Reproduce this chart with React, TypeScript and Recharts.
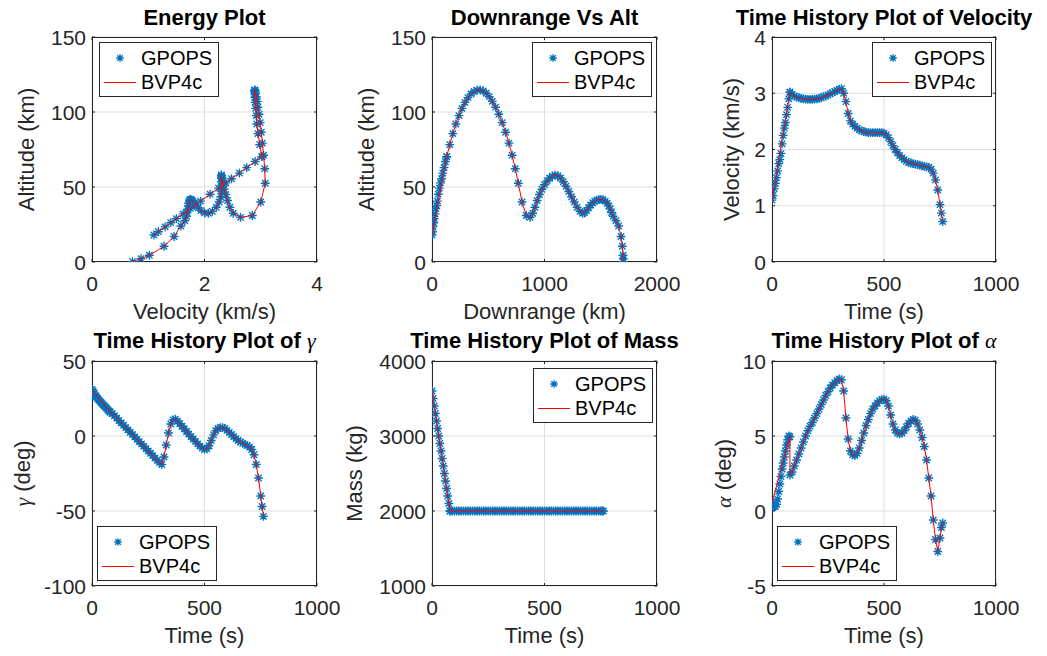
import React from 'react';
import { ScatterChart, Scatter, XAxis, YAxis, CartesianGrid, Legend } from 'recharts';

const FONT = "'Liberation Sans', Arial, Helvetica, sans-serif";
const SERIF = "'Liberation Serif', 'DejaVu Serif', serif";
const BLUE = '#0072BD';
const RED = '#FF0000';
const AXIS = '#262626';
const GRID = '#dfdfdf';

// ---------------- GPOPS solution (boost phase 0-80 s, then glide phase 80-762 s) ----------------
const gpopsTime = [
  0, 5, 10, 15, 20, 25, 30, 35, 40, 45, 50, 55, 60, 65, 70, 75, 80,
  80, 90, 100, 110, 120, 130, 140, 150, 160, 170, 180, 190, 200, 210, 220, 230, 240, 250, 260, 270, 280, 290, 300, 310,
  320, 330, 340, 350, 360, 370, 380, 390, 400, 410, 420, 430, 440, 450, 460, 470, 480, 490, 500, 510, 520, 530, 540,
  550, 560, 570, 580, 590, 600, 610, 620, 630, 640, 650, 660, 670, 680, 690, 700, 710, 720, 730, 740, 750, 756, 762,
];
const gpopsVelocity = [
  1.10, 1.18, 1.30, 1.40, 1.50, 1.62, 1.75, 1.82, 1.93, 2.10, 2.25, 2.38, 2.48, 2.62, 2.75, 2.90, 3.02,
  3.02, 2.98, 2.95, 2.93, 2.92, 2.91, 2.90, 2.895, 2.89, 2.89, 2.89, 2.895, 2.90, 2.91, 2.92, 2.94, 2.95, 2.97, 2.99, 3.01, 3.03, 3.05, 3.07, 3.08,
  3.00, 2.85, 2.64, 2.51, 2.45, 2.41, 2.38, 2.35, 2.33, 2.32, 2.31, 2.30, 2.30, 2.30, 2.30, 2.30, 2.30, 2.30, 2.29, 2.26, 2.21, 2.14, 2.07,
  2.00, 1.94, 1.89, 1.85, 1.82, 1.79, 1.77, 1.76, 1.75, 1.74, 1.73, 1.72, 1.71, 1.70, 1.69, 1.68, 1.65, 1.58, 1.46, 1.28, 1.02, 0.87, 0.72,
];
const gpopsAltitude = [
  18.0, 20.2, 23.4, 26.2, 28.9, 32.1, 35.7, 37.6, 40.6, 45.2, 49.3, 52.8, 55.5, 59.3, 62.9, 67.0, 70.2,
  70.2, 78.3, 85.6, 92.0, 97.6, 102.4, 106.4, 109.6, 112.1, 113.7, 114.6, 114.7, 114.0, 112.5, 110.2, 107.1, 103.2, 98.5, 92.9, 86.5, 79.3, 71.2, 62.2, 52.5,
  40.0, 31.0, 29.8, 32.5, 36.5, 41.0, 45.0, 48.5, 51.5, 54.0, 56.0, 57.3, 58.0, 57.5, 56.0, 53.5, 50.5, 47.0, 43.5, 40.0, 36.5, 33.8, 32.5,
  32.8, 34.3, 36.2, 38.0, 39.5, 40.5, 41.2, 41.6, 41.8, 41.5, 40.6, 39.2, 37.4, 35.3, 33.0, 30.5, 27.5, 24.0, 17.0, 10.5, 4.5, 2.2, 0.3,
];
const gpopsDownrange = [
  0, 4.5, 9.5, 15, 20.5, 27, 33.5, 40.5, 48, 56, 65, 75, 85, 95.5, 107, 119, 131,
  131, 158, 185, 212, 239, 266, 293, 320, 347, 374, 401, 428, 455, 482, 509, 536, 565, 594, 624, 654, 684, 712, 740, 767,
  800, 838, 872, 895, 915, 935, 955, 977, 1000, 1023, 1046, 1070, 1093, 1118, 1142, 1167, 1191, 1216, 1241, 1265, 1290, 1315, 1339,
  1356, 1374, 1392, 1410, 1428, 1446, 1464, 1484, 1502, 1520, 1540, 1558, 1572, 1585, 1597, 1610, 1635, 1659, 1680, 1692, 1698, 1700, 1701,
];
const gpopsGamma = [
  31.0, 30.0, 28.5, 27.0, 26.0, 25.0, 24.0, 23.2, 22.4, 21.6, 20.8, 20.0, 19.2, 18.4, 17.5, 16.7, 16.0,
  16.0, 15.0, 13.4, 11.9, 10.3, 8.7, 7.2, 5.6, 4.1, 2.5, 0.9, -0.6, -2.2, -3.7, -5.3, -6.9, -8.4, -10.0, -11.5, -13.1, -14.7, -16.2, -17.8, -19.0,
  -14.0, -6.0, 2.0, 8.0, 10.8, 11.2, 10.0, 8.3, 6.5, 4.7, 3.0, 1.3, -0.4, -2.0, -3.6, -5.2, -6.7, -8.0, -8.9, -8.5, -6.5, -3.0, 0.8,
  3.6, 5.0, 5.6, 5.6, 5.0, 3.8, 2.4, 1.0, -0.4, -1.8, -3.0, -4.0, -4.8, -5.6, -6.3, -7.3, -9.0, -12.5, -19.0, -28.0, -40.0, -47.0, -53.6,
];
const gpopsAlpha = [
  0.55, 0.40, 0.30, 0.30, 0.45, 0.80, 1.30, 1.80, 2.30, 2.80, 3.20, 3.60, 4.00, 4.40, 4.75, 5.00, 4.95,
  2.40, 2.60, 3.00, 3.40, 3.80, 4.20, 4.60, 5.00, 5.35, 5.65, 5.90, 6.20, 6.50, 6.80, 7.10, 7.40, 7.70, 7.95, 8.20, 8.40, 8.55, 8.70, 8.80, 8.75,
  8.00, 6.20, 4.80, 4.00, 3.75, 3.70, 3.85, 4.20, 4.70, 5.20, 5.70, 6.10, 6.50, 6.80, 7.00, 7.20, 7.35, 7.42, 7.45, 7.35, 7.00, 6.40, 5.80,
  5.40, 5.20, 5.15, 5.20, 5.35, 5.60, 5.85, 6.00, 6.10, 6.05, 5.80, 5.40, 4.90, 4.30, 3.40, 2.20, 1.00, -0.60, -1.90, -2.70, -1.80, -1.10, -0.80,
];
const gpopsMass = [
  3600, 3500, 3400, 3300, 3200, 3100, 3000, 2900, 2800, 2700, 2600, 2500, 2400, 2300, 2200, 2100, 2000,
  2000, 2000, 2000, 2000, 2000, 2000, 2000, 2000, 2000, 2000, 2000, 2000, 2000, 2000, 2000, 2000, 2000, 2000, 2000, 2000, 2000, 2000, 2000, 2000,
  2000, 2000, 2000, 2000, 2000, 2000, 2000, 2000, 2000, 2000, 2000, 2000, 2000, 2000, 2000, 2000, 2000, 2000, 2000, 2000, 2000, 2000, 2000,
  2000, 2000, 2000, 2000, 2000, 2000, 2000, 2000, 2000, 2000, 2000, 2000, 2000, 2000, 2000, 2000, 2000, 2000, 2000, 2000, 2000, 2000, 2000,
];

// ---------------- BVP4c solution (boost phase endpoints, then glide phase) ----------------
const bvpTime = [
  0, 80,
  80, 90, 100, 110, 120, 130, 140, 150, 160, 170, 180, 190, 200, 210, 220, 230, 240, 250, 260, 270, 280, 290, 300, 310,
  320, 330, 340, 350, 360, 370, 380, 390, 400, 410, 420, 430, 440, 450, 460, 470, 480, 490, 500, 510, 520, 530, 540,
  550, 560, 570, 580, 590, 600, 610, 620, 630, 640, 650, 660, 670, 680, 690, 700, 710, 720, 730, 740, 750, 756, 762,
];
const bvpVelocity = [
  1.10, 3.02,
  3.02, 2.98, 2.95, 2.93, 2.92, 2.91, 2.90, 2.895, 2.89, 2.89, 2.89, 2.895, 2.90, 2.91, 2.92, 2.94, 2.95, 2.97, 2.99, 3.01, 3.03, 3.05, 3.07, 3.08,
  3.00, 2.85, 2.64, 2.51, 2.45, 2.41, 2.38, 2.35, 2.33, 2.32, 2.31, 2.30, 2.30, 2.30, 2.30, 2.30, 2.30, 2.30, 2.29, 2.26, 2.21, 2.14, 2.07,
  2.00, 1.94, 1.89, 1.85, 1.82, 1.79, 1.77, 1.76, 1.75, 1.74, 1.73, 1.72, 1.71, 1.70, 1.69, 1.68, 1.65, 1.58, 1.46, 1.28, 1.02, 0.87, 0.72,
];
const bvpAltitude = [
  18.0, 70.2,
  70.2, 78.3, 85.6, 92.0, 97.6, 102.4, 106.4, 109.6, 112.1, 113.7, 114.6, 114.7, 114.0, 112.5, 110.2, 107.1, 103.2, 98.5, 92.9, 86.5, 79.3, 71.2, 62.2, 52.5,
  40.0, 31.0, 29.8, 32.5, 36.5, 41.0, 45.0, 48.5, 51.5, 54.0, 56.0, 57.3, 58.0, 57.5, 56.0, 53.5, 50.5, 47.0, 43.5, 40.0, 36.5, 33.8, 32.5,
  32.8, 34.3, 36.2, 38.0, 39.5, 40.5, 41.2, 41.6, 41.8, 41.5, 40.6, 39.2, 37.4, 35.3, 33.0, 30.5, 27.5, 24.0, 17.0, 10.5, 4.5, 2.2, 0.3,
];
const bvpDownrange = [
  0, 131,
  131, 158, 185, 212, 239, 266, 293, 320, 347, 374, 401, 428, 455, 482, 509, 536, 565, 594, 624, 654, 684, 712, 740, 767,
  800, 838, 872, 895, 915, 935, 955, 977, 1000, 1023, 1046, 1070, 1093, 1118, 1142, 1167, 1191, 1216, 1241, 1265, 1290, 1315, 1339,
  1356, 1374, 1392, 1410, 1428, 1446, 1464, 1484, 1502, 1520, 1540, 1558, 1572, 1585, 1597, 1610, 1635, 1659, 1680, 1692, 1698, 1700, 1701,
];
const bvpGamma = [
  31.0, 16.0,
  16.0, 15.0, 13.4, 11.9, 10.3, 8.7, 7.2, 5.6, 4.1, 2.5, 0.9, -0.6, -2.2, -3.7, -5.3, -6.9, -8.4, -10.0, -11.5, -13.1, -14.7, -16.2, -17.8, -19.0,
  -14.0, -6.0, 2.0, 8.0, 10.8, 11.2, 10.0, 8.3, 6.5, 4.7, 3.0, 1.3, -0.4, -2.0, -3.6, -5.2, -6.7, -8.0, -8.9, -8.5, -6.5, -3.0, 0.8,
  3.6, 5.0, 5.6, 5.6, 5.0, 3.8, 2.4, 1.0, -0.4, -1.8, -3.0, -4.0, -4.8, -5.6, -6.3, -7.3, -9.0, -12.5, -19.0, -28.0, -40.0, -47.0, -53.6,
];
const bvpAlpha = [
  0.55, 5.00,
  2.40, 2.60, 3.00, 3.40, 3.80, 4.20, 4.60, 5.00, 5.35, 5.65, 5.90, 6.20, 6.50, 6.80, 7.10, 7.40, 7.70, 7.95, 8.20, 8.40, 8.55, 8.70, 8.80, 8.75,
  8.00, 6.20, 4.80, 4.00, 3.75, 3.70, 3.85, 4.20, 4.70, 5.20, 5.70, 6.10, 6.50, 6.80, 7.00, 7.20, 7.35, 7.42, 7.45, 7.35, 7.00, 6.40, 5.80,
  5.40, 5.20, 5.15, 5.20, 5.35, 5.60, 5.85, 6.00, 6.10, 6.05, 5.80, 5.40, 4.90, 4.30, 3.40, 2.20, 1.00, -0.60, -1.90, -2.70, -1.80, -1.10, -0.80,
];
const bvpMass = [
  3600, 2000,
  2000, 2000, 2000, 2000, 2000, 2000, 2000, 2000, 2000, 2000, 2000, 2000, 2000, 2000, 2000, 2000, 2000, 2000, 2000, 2000, 2000, 2000, 2000, 2000,
  2000, 2000, 2000, 2000, 2000, 2000, 2000, 2000, 2000, 2000, 2000, 2000, 2000, 2000, 2000, 2000, 2000, 2000, 2000, 2000, 2000, 2000, 2000,
  2000, 2000, 2000, 2000, 2000, 2000, 2000, 2000, 2000, 2000, 2000, 2000, 2000, 2000, 2000, 2000, 2000, 2000, 2000, 2000, 2000, 2000, 2000,
];

// ---------------- axis ticks ----------------
const velocityKmsTicks = [0, 2, 4];
const altitudeTicks = [0, 50, 100, 150];
const downrangeTicks = [0, 1000, 2000];
const timeTicks = [0, 500, 1000];
const velocityTicks = [0, 1, 2, 3, 4];
const gammaTicks = [-100, -50, 0, 50];
const massTicks = [1000, 2000, 3000, 4000];
const alphaTicks = [-5, 0, 5, 10];

type Pt = { x: number; y: number };
const pts = (xs: number[], ys: number[]): Pt[] => xs.map((x, i) => ({ x, y: ys[i] }));

const Asterisk = (props: any) => {
  const { cx, cy } = props;
  const r = props.r ?? 4.4;
  if (cx == null || cy == null || isNaN(cx) || isNaN(cy)) return <g />;
  const d = r * 0.72;
  return (
    <path
      d={`M${cx - r},${cy}H${cx + r}M${cx},${cy - r}V${cy + r}M${cx - d},${cy - d}L${cx + d},${cy + d}M${cx - d},${cy + d}L${cx + d},${cy - d}`}
      stroke={BLUE}
      strokeWidth={1.35}
      fill="none"
    />
  );
};
const Nothing = () => <g />;

const LegendBox = () => (
  <div
    style={{
      position: 'relative',
      width: 120,
      height: 55,
      boxSizing: 'border-box',
      border: `1px solid ${AXIS}`,
      background: '#fff',
      fontFamily: FONT,
      fontSize: 20,
      color: '#000',
    }}
  >
    <svg width={40} height={53} style={{ position: 'absolute', left: 0, top: 0 }}>
      <Asterisk cx={20} cy={15} r={3.8} />
      <line x1={4} x2={36} y1={39.5} y2={39.5} stroke={RED} strokeWidth={1} />
    </svg>
    <span style={{ position: 'absolute', left: 41, top: 15 - 11.5, lineHeight: '23px', whiteSpace: 'nowrap' }}>GPOPS</span>
    <span style={{ position: 'absolute', left: 41, top: 39.5 - 11.5, lineHeight: '23px', whiteSpace: 'nowrap' }}>BVP4c</span>
  </div>
);

const YW = 100;
const MT = 35;
const XH = 65;
const MR = 45;

interface SubplotProps {
  left: number;
  top: number;
  plotW: number;
  plotH: number;
  xTicks: number[];
  yTicks: number[];
  gpops: Pt[];
  bvp: Pt[];
  title: React.ReactNode;
  titleOffset: number;
  xLabel: string;
  yLabel: React.ReactNode;
  yLabelOffset: number;
  legendX: number;
  legendY: number;
}

function Subplot(p: SubplotProps) {
  const W = YW + p.plotW + MR;
  const H = MT + p.plotH + XH;
  const bottom = MT + p.plotH;
  const right = YW + p.plotW;
  const xDomain: [number, number] = [p.xTicks[0], p.xTicks[p.xTicks.length - 1]];
  const yDomain: [number, number] = [p.yTicks[0], p.yTicks[p.yTicks.length - 1]];

  const xTick = (t: any) => (
    <g>
      <line x1={t.x} x2={t.x} y1={bottom} y2={bottom - 3} stroke={AXIS} strokeWidth={1} />
      <line x1={t.x} x2={t.x} y1={MT} y2={MT + 3} stroke={AXIS} strokeWidth={1} />
      <text x={t.x} y={bottom + 28.5} textAnchor="middle" fontSize={21} fontFamily={FONT} fill={AXIS}>
        {t.payload.value}
      </text>
    </g>
  );
  const yTick = (t: any) => (
    <g>
      <line x1={YW} x2={YW + 3} y1={t.y} y2={t.y} stroke={AXIS} strokeWidth={1} />
      <line x1={right} x2={right - 3} y1={t.y} y2={t.y} stroke={AXIS} strokeWidth={1} />
      <text x={YW - 6} y={t.y + 7.5} textAnchor="end" fontSize={21} fontFamily={FONT} fill={AXIS}>
        {t.payload.value}
      </text>
    </g>
  );
  const frame = () => (
    <g>
      <rect x={YW + 0.5} y={MT + 0.5} width={p.plotW - 1} height={p.plotH - 1} fill="none" stroke={AXIS} strokeWidth={1} />
      <text x={YW + p.plotW / 2} y={MT - p.titleOffset} textAnchor="middle" fontSize={22} fontWeight="bold" fontFamily={FONT} fill="#000">
        {p.title}
      </text>
      <text x={YW + p.plotW / 2} y={bottom + 57} textAnchor="middle" fontSize={22} fontFamily={FONT} fill={AXIS}>
        {p.xLabel}
      </text>
    </g>
  );
  const yLabel = () => (
    <text
      transform={`translate(${YW - p.yLabelOffset}, ${MT + p.plotH / 2}) rotate(-90)`}
      textAnchor="middle"
      fontSize={22}
      fontFamily={FONT}
      fill={AXIS}
    >
      {p.yLabel}
    </text>
  );

  return (
    <div style={{ position: 'absolute', left: p.left - YW, top: p.top - MT, width: W, height: H }}>
      <ScatterChart width={W} height={H} margin={{ top: MT, right: MR, bottom: 0, left: 0 }}>
        <CartesianGrid stroke={GRID} strokeWidth={1} />
        <XAxis
          type="number"
          dataKey="x"
          domain={xDomain}
          ticks={p.xTicks}
          interval={0}
          allowDataOverflow
          height={XH}
          tickLine={false}
          axisLine={false}
          tickSize={0}
          tick={xTick}
          label={frame}
        />
        <YAxis
          type="number"
          dataKey="y"
          domain={yDomain}
          ticks={p.yTicks}
          interval={0}
          allowDataOverflow
          width={YW}
          tickLine={false}
          axisLine={false}
          tickSize={0}
          tick={yTick}
          label={yLabel}
        />
        <Scatter name="GPOPS" data={p.gpops} shape={Asterisk} fill={BLUE} isAnimationActive={false} />
        <Scatter
          name="BVP4c"
          data={p.bvp}
          shape={Nothing}
          fill={RED}
          line={{ stroke: RED, strokeWidth: 1 }}
          lineType="joint"
          isAnimationActive={false}
        />
        <Legend
          layout="horizontal"
          verticalAlign="middle"
          align="center"
          content={() => <LegendBox />}
          wrapperStyle={{ left: YW + p.legendX, top: MT + p.legendY, width: 120, height: 55, margin: 0, padding: 0 }}
        />
      </ScatterChart>
    </div>
  );
}

const greek = (s: string) => (
  <tspan fontFamily={SERIF} fontStyle="italic" fontWeight="normal">
    {s}
  </tspan>
);

export default function App() {
  return (
    <div style={{ position: 'absolute', left: 0, top: 0, width: 1047, height: 656, background: '#fff', overflow: 'hidden', fontFamily: FONT }}>
      <Subplot
        left={92} top={37} plotW={225} plotH={225}
        xTicks={velocityKmsTicks} yTicks={altitudeTicks}
        gpops={pts(gpopsVelocity, gpopsAltitude)} bvp={pts(bvpVelocity, bvpAltitude)}
        title="Energy Plot" titleOffset={12}
        xLabel="Velocity (km/s)" yLabel="Altitude (km)" yLabelOffset={58}
        legendX={7} legendY={5}
      />
      <Subplot
        left={432} top={37} plotW={225} plotH={225}
        xTicks={downrangeTicks} yTicks={altitudeTicks}
        gpops={pts(gpopsDownrange, gpopsAltitude)} bvp={pts(bvpDownrange, bvpAltitude)}
        title="Downrange Vs Alt" titleOffset={12}
        xLabel="Downrange (km)" yLabel="Altitude (km)" yLabelOffset={58}
        legendX={100} legendY={5}
      />
      <Subplot
        left={772} top={37} plotW={224} plotH={225}
        xTicks={timeTicks} yTicks={velocityTicks}
        gpops={pts(gpopsTime, gpopsVelocity)} bvp={pts(bvpTime, bvpVelocity)}
        title="Time History Plot of Velocity" titleOffset={12}
        xLabel="Time (s)" yLabel="Velocity (km/s)" yLabelOffset={33.5}
        legendX={100} legendY={5}
      />
      <Subplot
        left={92} top={361} plotW={225} plotH={225}
        xTicks={timeTicks} yTicks={gammaTicks}
        gpops={pts(gpopsTime, gpopsGamma)} bvp={pts(bvpTime, bvpGamma)}
        title={<>Time History Plot of {greek('γ')}</>} titleOffset={13}
        xLabel="Time (s)" yLabel={<>{greek('γ')} (deg)</>} yLabelOffset={62}
        legendX={5} legendY={165}
      />
      <Subplot
        left={432} top={361} plotW={225} plotH={225}
        xTicks={timeTicks} yTicks={massTicks}
        gpops={pts(gpopsTime, gpopsMass)} bvp={pts(bvpTime, bvpMass)}
        title="Time History Plot of Mass" titleOffset={13}
        xLabel="Time (s)" yLabel="Mass (kg)" yLabelOffset={70}
        legendX={101} legendY={7}
      />
      <Subplot
        left={772} top={361} plotW={224} plotH={225}
        xTicks={timeTicks} yTicks={alphaTicks}
        gpops={pts(gpopsTime, gpopsAlpha)} bvp={pts(bvpTime, bvpAlpha)}
        title={<>Time History Plot of {greek('α')}</>} titleOffset={13}
        xLabel="Time (s)" yLabel={<>{greek('α')} (deg)</>} yLabelOffset={41.5}
        legendX={5} legendY={165}
      />
    </div>
  );
}
